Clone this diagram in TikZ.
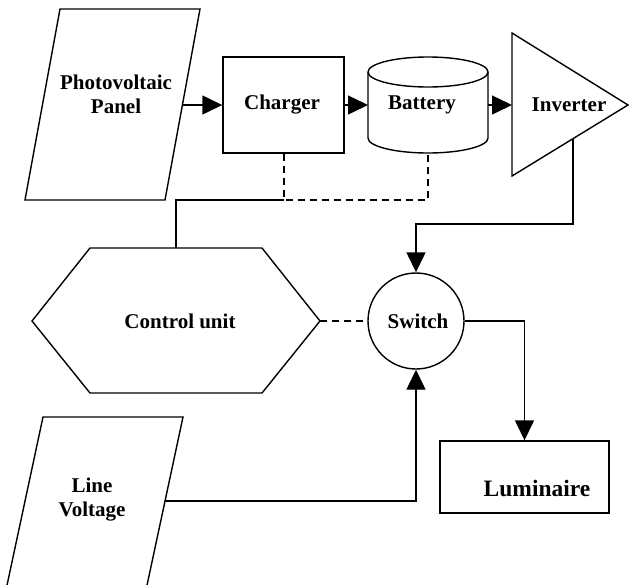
\documentclass[tikz,border=0pt]{standalone}
\usepackage{fontspec}
\setmainfont{Liberation Serif}
\usetikzlibrary{arrows.meta}
\begin{document}
\begin{tikzpicture}[x=1pt,y=-1pt,
  line width=1.4pt, line join=miter,
  txt/.style={font=\bfseries\fontsize{21}{24}\selectfont, align=center, inner sep=0pt},
  arr/.style={-{Triangle[length=20pt,width=19pt]}},
  dsh/.style={dash pattern=on 7pt off 5pt},
  every node/.style={inner sep=0pt}]
\useasboundingbox (0,0) rectangle (629,584);
% Photovoltaic panel
\draw (60,9) -- (200,9) -- (165,200) -- (25,200) -- cycle;
\node[txt] (pv) at (116,94) {Photovoltaic\\Panel};
\coordinate (pvR) at (182.4,105);
% Charger
\node[draw, minimum width=121pt, minimum height=96pt] (ch) at (283.5,105) {};
\node[txt] (chT) at (282,105) {Charger};
% Battery
\draw (368,72) -- (368,138) arc[start angle=180,end angle=360,x radius=60pt,y radius=15pt] -- (488,72);
\draw[fill=white] (428,72) ellipse [x radius=60pt, y radius=15pt];
\coordinate (batL) at (368,105);
\coordinate (batR) at (488,105);
\coordinate (batB) at (428,153);
\node[txt] (batT) at (422,105) {Battery};
% Inverter
\draw (512,33) -- (628,105) -- (512,176) -- cycle;
\coordinate (invL) at (512,105);
\coordinate (invO) at (573,139);
\node[txt] (invT) at (569,105) {Inverter};
% Control unit
\draw (90,248) -- (262,248) -- (320,321) -- (262,393) -- (90,393) -- (32,321) -- cycle;
\coordinate (cuT) at (176,248);
\coordinate (cuR) at (320,321);
\node[txt] (cu) at (180,321) {Control unit};
% Switch
\node[draw, circle, minimum size=96pt] (sw) at (416,321) {};
\node[txt] (swT) at (418,321) {Switch};
% Luminaire
\node[draw, minimum width=169pt, minimum height=72pt] (lum) at (524.5,477) {};
\node[txt, font=\bfseries\fontsize{23.5}{26}\selectfont] (lumT) at (537,488) {Luminaire};
% Line voltage
\begin{scope}
\clip (0,0) rectangle (629,584);
\draw (43,417) -- (183,417) -- (143,604) -- (3,604) -- cycle;
\end{scope}
\coordinate (lvR) at (165,501);
\node[txt] (lv) at (92,500) {Line\\Voltage};
% connectors
\draw[arr] (pvR) -- (ch.west);
\draw[arr] (ch.east) -- (batL);
\draw[arr] (batR) -- (invL);
\coordinate (j1) at (284,200);
\coordinate (j2) at (428,200);
\draw[dsh] (ch.south -| j1) -- (j1) -- (j2) -- (batB);
\draw (j1) -- (cuT |- j1) -- (cuT);
\draw[dsh] (cuR) -- (sw.west);
\draw[arr] (invO) -- (573,224) -- (sw.north |- 0,224) -- (sw.north);
\draw[arr] (sw.east) -- (lum.north |- sw.east) -- (lum.north);
\draw[arr] (lvR) -- (sw.south |- lvR) -- (sw.south);
\end{tikzpicture}
\end{document}
